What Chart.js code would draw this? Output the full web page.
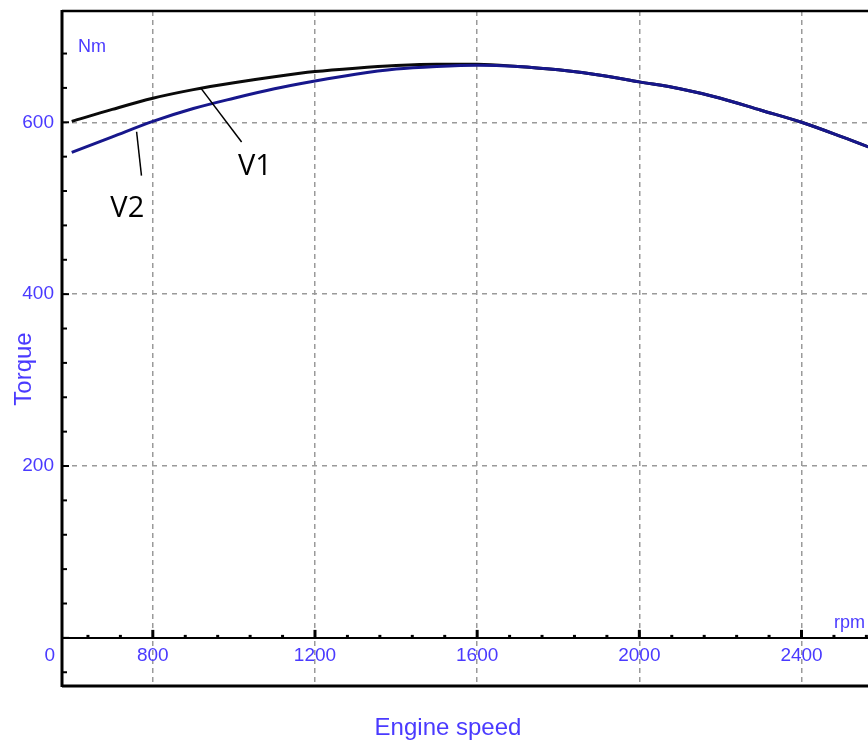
<!DOCTYPE html>
<html>
<head>
<meta charset="utf-8">
<script src="https://cdn.jsdelivr.net/npm/chart.js@4"></script>
<style>
  html, body { margin: 0; padding: 0; background: #fff; }
  canvas { display: block; }
</style>
</head>
<body>
<canvas id="torqueChart" width="868" height="747"></canvas>
<script>
// engine speed samples (rpm) and torque readings (Nm)
const rpm = [600, 700, 800, 900, 1000, 1100, 1200, 1300, 1400, 1500, 1600, 1700, 1800, 1900, 2000, 2100, 2200, 2300, 2400, 2500, 2600];
const torqueV1 = [601, 615, 628, 638, 646, 653, 659, 663, 666, 667.5, 667.5, 665, 661, 655, 647, 639, 628, 614, 600, 583, 565];
const torqueV2 = [565, 583, 601, 616, 628, 639, 648, 656, 662, 665, 666.5, 665, 661, 655, 647, 639, 628, 614, 600, 583, 565];

const xTicks = [800, 1200, 1600, 2000, 2400];
const yTicks = [200, 400, 600];

// leader labels, in data units: [text, labelRpm, labelNm, fromRpm, fromNm, toRpm, toNm]
const callouts = [
    ['V1', 1052, 548, 918, 640, 1019, 577],
    ['V2', 737, 499, 760, 589, 772, 538]
];

const labelBlue = '#4a3aff';

const framePlugin = {
    id: 'frame',
    afterDraw(chart) {
        const ctx = chart.ctx;
        const a = chart.chartArea;
        const xs = chart.scales.x;
        const ys = chart.scales.y;
        const y0 = ys.getPixelForValue(0);
        ctx.save();
        ctx.strokeStyle = '#000';
        ctx.lineCap = 'butt';

        // outer frame
        ctx.lineWidth = 3;
        ctx.beginPath();
        ctx.moveTo(a.left, a.top - 1);
        ctx.lineTo(a.left, a.bottom + 1);
        ctx.stroke();
        ctx.beginPath();
        ctx.moveTo(a.left, a.bottom);
        ctx.lineTo(a.right, a.bottom);
        ctx.stroke();
        ctx.lineWidth = 2.5;
        ctx.beginPath();
        ctx.moveTo(a.left, a.top);
        ctx.lineTo(a.right, a.top);
        ctx.stroke();

        // zero line
        ctx.lineWidth = 2;
        ctx.beginPath();
        ctx.moveTo(a.left, y0);
        ctx.lineTo(a.right, y0);
        ctx.stroke();

        // y ticks every 40 Nm
        ctx.lineWidth = 2;
        for (let v = -40; v <= 680; v += 40) {
            const py = ys.getPixelForValue(v);
            const len = v % 200 === 0 ? 7 : 5;
            ctx.beginPath();
            ctx.moveTo(a.left, py);
            ctx.lineTo(a.left + len, py);
            ctx.stroke();
        }

        // x ticks every 80 rpm on the zero line
        ctx.lineWidth = 3;
        for (let v = 640; v <= 2560; v += 80) {
            const px = xs.getPixelForValue(v);
            const len = v % 400 === 0 ? 8 : 3;
            ctx.beginPath();
            ctx.moveTo(px, y0 - len);
            ctx.lineTo(px, y0);
            ctx.stroke();
        }

        // tick labels
        ctx.fillStyle = labelBlue;
        ctx.font = '19px "Liberation Sans"';
        ctx.textBaseline = 'middle';
        ctx.textAlign = 'right';
        yTicks.forEach(v => ctx.fillText(String(v), a.left - 8, ys.getPixelForValue(v)));
        ctx.fillText('0', a.left - 7, y0 + 18);
        ctx.textAlign = 'center';
        xTicks.forEach(v => ctx.fillText(String(v), xs.getPixelForValue(v), y0 + 18));

        // units
        ctx.font = '18px "Liberation Sans"';
        ctx.textAlign = 'left';
        ctx.fillText('Nm', a.left + 16, 47);
        ctx.fillText('rpm', 834, y0 - 15);

        // axis titles
        ctx.font = '24px "Liberation Sans"';
        ctx.textAlign = 'center';
        ctx.fillText('Engine speed', 448, 728);
        ctx.save();
        ctx.translate(24, 369);
        ctx.rotate(-Math.PI / 2);
        ctx.fillText('Torque', 0, 0);
        ctx.restore();

        // series callouts
        ctx.fillStyle = '#000';
        ctx.strokeStyle = '#000';
        ctx.lineWidth = 1.5;
        ctx.font = '29px "Open Sans"';
        callouts.forEach(([txt, lx, ly, fx, fy, tx, ty]) => {
            ctx.beginPath();
            ctx.moveTo(xs.getPixelForValue(fx), ys.getPixelForValue(fy));
            ctx.lineTo(xs.getPixelForValue(tx), ys.getPixelForValue(ty));
            ctx.stroke();
            ctx.fillText(txt, xs.getPixelForValue(lx), ys.getPixelForValue(ly));
        });
        ctx.restore();
    }
};

const ctx = document.getElementById('torqueChart').getContext('2d');
new Chart(ctx, {
    type: 'line',
    data: {
        datasets: [{
            label: 'V2',
            data: rpm.map((r, i) => ({ x: r, y: torqueV2[i] })),
            borderColor: '#17178c',
            borderWidth: 3,
            pointRadius: 0,
            cubicInterpolationMode: 'monotone',
            order: 0
        }, {
            label: 'V1',
            data: rpm.map((r, i) => ({ x: r, y: torqueV1[i] })),
            borderColor: '#0a0a0a',
            borderWidth: 3,
            pointRadius: 0,
            cubicInterpolationMode: 'monotone',
            order: 1
        }]
    },
    options: {
        responsive: false,
        animation: false,
        devicePixelRatio: 1,
        layout: {
            padding: { left: 62, top: 11, right: 0, bottom: 61 }
        },
        scales: {
            x: {
                type: 'linear',
                min: 576,
                max: 2564,
                afterBuildTicks: (scale) => { scale.ticks = xTicks.map(v => ({ value: v })); },
                afterFit: (scale) => { scale.height = 0; },
                ticks: { display: false },
                border: { display: false, dash: [5, 4] },
                grid: { color: '#9a9a9a', lineWidth: 1.5, drawTicks: false }
            },
            y: {
                type: 'linear',
                min: -56,
                max: 729.5,
                afterBuildTicks: (scale) => { scale.ticks = yTicks.map(v => ({ value: v })); },
                afterFit: (scale) => { scale.width = 0; },
                ticks: { display: false },
                border: { display: false, dash: [5, 5] },
                grid: { color: '#9a9a9a', lineWidth: 1.5, drawTicks: false }
            }
        },
        plugins: {
            legend: { display: false },
            tooltip: { enabled: false }
        }
    },
    plugins: [framePlugin]
});
</script>
</body>
</html>
